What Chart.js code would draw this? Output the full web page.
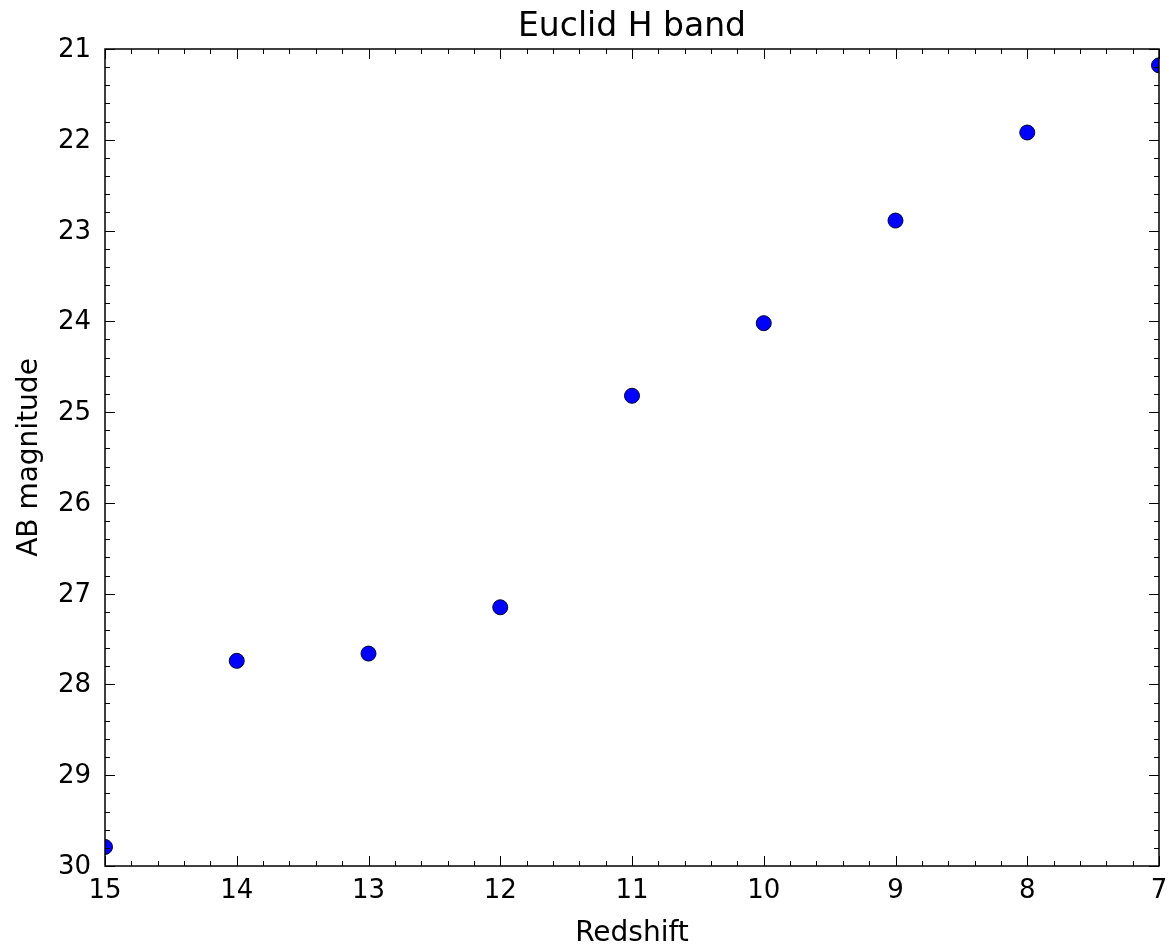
<!DOCTYPE html>
<html>
<head>
<meta charset="utf-8">
<title>Euclid H band</title>
<script src="https://cdn.jsdelivr.net/npm/chart.js@4/dist/chart.umd.min.js"></script>
<style>
  html, body { margin: 0; padding: 0; background: #fff; }
  #wrap { width: 1169px; height: 948px; }
</style>
</head>
<body>
<div id="wrap"><canvas id="hband"></canvas></div>
<script>
const redshifts = [15, 14, 13, 12, 11, 10, 9, 8, 7];
const magnitudes = [29.79, 27.74, 27.66, 27.15, 24.82, 24.02, 22.89, 21.92, 21.18];
const xRange = [15, 7];
const yRange = [21, 30];

const FONT = '"DejaVu Sans", sans-serif';

// matplotlib-style frame: inward ticks on all four sides, labels outside
const framePlugin = {
    id: 'frame',
    afterDatasetsDraw(chart) {
        const { ctx, chartArea: a, scales } = chart;
        const x = scales.x, y = scales.y;
        ctx.save();
        ctx.strokeStyle = '#000';
        ctx.lineWidth = 1.5;
        ctx.strokeRect(a.left, a.top, a.right - a.left, a.bottom - a.top);

        ctx.lineWidth = 1;
        ctx.beginPath();
        for (let v = 7; v <= 15.0001; v += 0.2) {
            const px = Math.round(x.getPixelForValue(v)) + 0.5;
            const major = Math.abs(v - Math.round(v)) < 1e-6;
            const len = major ? 10 : 5;
            ctx.moveTo(px, a.bottom); ctx.lineTo(px, a.bottom - len);
            ctx.moveTo(px, a.top); ctx.lineTo(px, a.top + len);
        }
        for (let v = 21; v <= 30.0001; v += 0.2) {
            const py = Math.round(y.getPixelForValue(v)) + 0.5;
            const major = Math.abs(v - Math.round(v)) < 1e-6;
            const len = major ? 10 : 5;
            ctx.moveTo(a.left, py); ctx.lineTo(a.left + len, py);
            ctx.moveTo(a.right, py); ctx.lineTo(a.right - len, py);
        }
        ctx.stroke();

        ctx.fillStyle = '#000';
        ctx.font = '26px ' + FONT;
        ctx.textBaseline = 'alphabetic';
        ctx.textAlign = 'center';
        x.ticks.forEach(t => {
            ctx.fillText(String(t.value), x.getPixelForValue(t.value), a.bottom + 32);
        });
        ctx.textAlign = 'right';
        y.ticks.forEach(t => {
            ctx.fillText(String(t.value), a.left - 14, y.getPixelForValue(t.value) + 8);
        });

        ctx.textAlign = 'center';
        ctx.font = '28px ' + FONT;
        ctx.fillText('Redshift', (a.left + a.right) / 2, 941);
        ctx.font = '33px ' + FONT;
        ctx.fillText('Euclid H band', (a.left + a.right) / 2, 36);

        ctx.translate(37, (a.top + a.bottom) / 2);
        ctx.rotate(-Math.PI / 2);
        ctx.font = '28px ' + FONT;
        ctx.fillText('AB magnitude', 0, 0);
        ctx.restore();
    }
};

new Chart(document.getElementById('hband'), {
    type: 'scatter',
    data: {
        datasets: [{
            data: redshifts.map((z, i) => ({ x: z, y: magnitudes[i] })),
            backgroundColor: '#0000ff',
            borderColor: '#000033',
            borderWidth: 1,
            pointRadius: 7.5,
            pointHoverRadius: 7.5,
            clip: 0
        }]
    },
    options: {
        responsive: true,
        maintainAspectRatio: false,
        animation: false,
        layout: { padding: { left: 105, top: 49, right: 10, bottom: 82 } },
        plugins: {
            legend: { display: false },
            tooltip: { enabled: false }
        },
        scales: {
            x: {
                display: false,
                reverse: true,
                min: xRange[1],
                max: xRange[0],
                ticks: { stepSize: 1 }
            },
            y: {
                display: false,
                reverse: true,
                min: yRange[0],
                max: yRange[1],
                ticks: { stepSize: 1 }
            }
        }
    },
    plugins: [framePlugin]
});
</script>
</body>
</html>
